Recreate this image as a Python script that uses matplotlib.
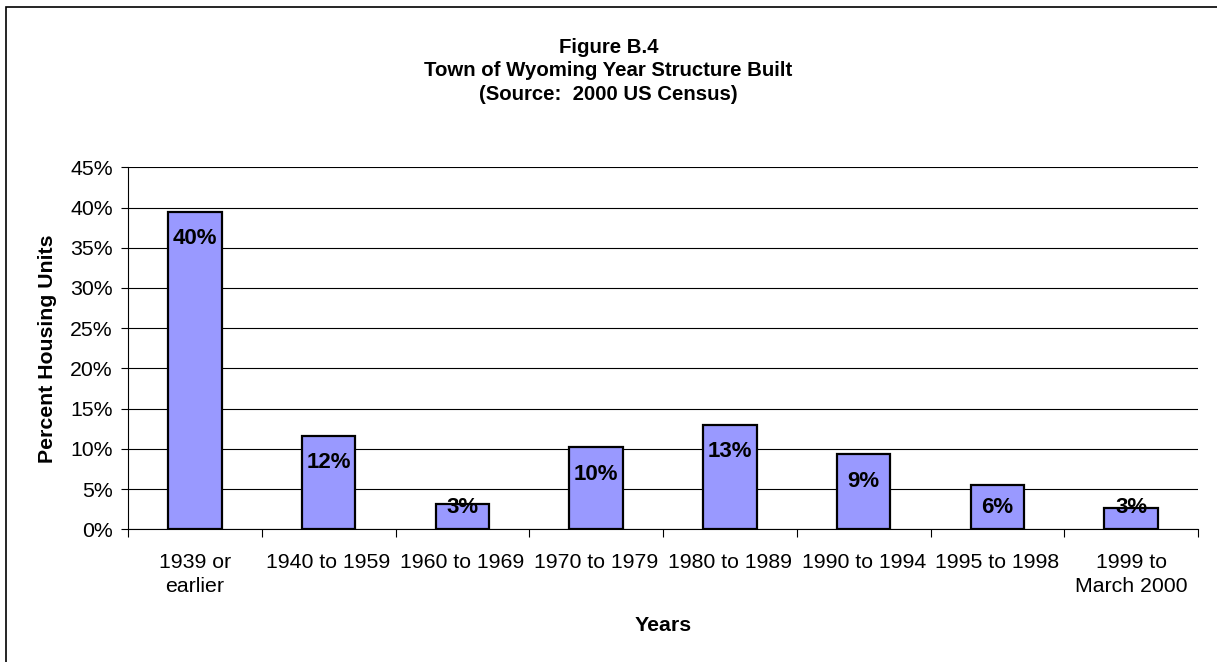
#!/usr/bin/env python3
"""Year structure built bar chart, Town of Wyoming (2000 US Census)."""

import matplotlib

matplotlib.use('Agg')
import matplotlib.pyplot as plt
from matplotlib.patches import Rectangle
from matplotlib.ticker import MultipleLocator, PercentFormatter


CATEGORIES = ['1939 or\nearlier', '1940 to 1959', '1960 to 1969', '1970 to 1979',
              '1980 to 1989', '1990 to 1994', '1995 to 1998', '1999 to\nMarch 2000']
PERCENTS = [39.5, 11.6, 3.2, 10.2, 13.0, 9.3, 5.5, 2.7]
BAR_LABELS = ['40%', '12%', '3%', '10%', '13%', '9%', '6%', '3%']

TITLE = 'Figure B.4\nTown of Wyoming Year Structure Built\n(Source:  2000 US Census)'

plt.rcParams['font.family'] = ['Liberation Sans', 'DejaVu Sans']

W, H = 1217, 662
fig = plt.figure(figsize=(W / 100, H / 100), dpi=100)
ax = fig.add_axes([128 / W, 1 - 529.3 / H, (1198 - 128) / W, (529.3 - 167.3) / H])

x = list(range(len(CATEGORIES)))
ax.bar(x, PERCENTS, width=0.4, color='#9999FF', edgecolor='black', linewidth=1.6, zorder=3)

px_per_unit = (529.3 - 167.3) / 45.0
for xi, val, lab in zip(x, PERCENTS, BAR_LABELS):
    h_px = val * px_per_unit
    off_px = min(27.0, max(0.0, h_px - 22.0))
    ax.annotate(lab, (xi, val), xytext=(0, -off_px * 0.72), textcoords='offset points',
                ha='center', va='center', fontsize=16, fontweight='bold', zorder=4)

ax.set_xlim(-0.5, len(CATEGORIES) - 0.5)
ax.set_ylim(0, 45)
ax.yaxis.set_major_locator(MultipleLocator(5))
ax.yaxis.set_major_formatter(PercentFormatter(decimals=0))
ax.grid(axis='y', color='black', linewidth=0.8, zorder=0)

ax.set_xticks([i - 0.5 for i in range(len(CATEGORIES) + 1)])
ax.set_xticklabels([])
ax.set_xticks(x, minor=True)
ax.set_xticklabels(CATEGORIES, minor=True, fontsize=15.3, linespacing=1.35)
ax.tick_params(axis='x', which='major', length=6, width=0.8, direction='out')
ax.tick_params(axis='x', which='minor', length=0, pad=17)
ax.tick_params(axis='y', length=5, width=0.8, labelsize=15.3, pad=6)

for side in ('top', 'right'):
    ax.spines[side].set_visible(False)
ax.spines['left'].set_linewidth(0.8)
ax.spines['bottom'].set_linewidth(0.8)

ax.set_xlabel('Years', fontsize=15.3, fontweight='bold', labelpad=14.5)
ax.set_ylabel('Percent Housing Units', fontsize=15.3, fontweight='bold', labelpad=9.5)

fig.text(0.5, 1 - 71 / H, TITLE, ha='center', va='center', fontsize=14.7,
         fontweight='bold', linespacing=1.3)

# outer chart frame (runs off the right and bottom edges in the original)
fig.patches.append(Rectangle((6 / W, -0.1), 1.2, 1.1 - 7 / H, transform=fig.transFigure,
                             fill=False, edgecolor='black', linewidth=1.2))

fig.savefig('out.png', dpi=100)
